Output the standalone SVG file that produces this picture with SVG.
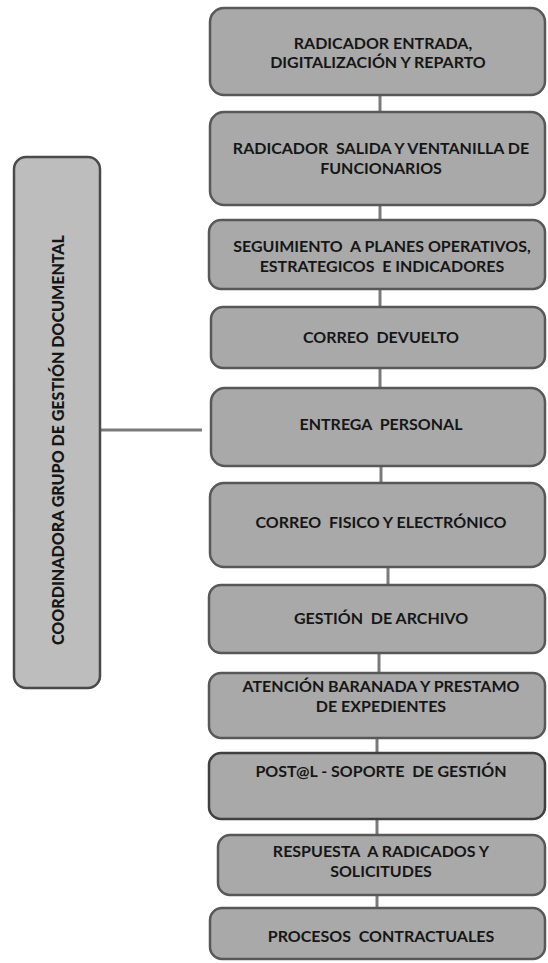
<svg xmlns="http://www.w3.org/2000/svg" width="548" height="963" viewBox="0 0 548 963">
<style>
.b{fill:#a9a9a9;stroke:#585858;stroke-width:2.5}
.l{fill:#bdbdbd;stroke:#4a4a4a;stroke-width:2.5}
.t{font-family:Lato,"Liberation Sans",sans-serif;font-weight:bold;font-size:16px;fill:#161616;text-anchor:middle;white-space:pre}
.c{stroke:#7a7a7a;stroke-width:3;fill:none}
</style>
<rect width="548" height="963" fill="#ffffff"/>
<g id="connectors">
<line class="c" x1="380" y1="95" x2="380" y2="112"/>
<line class="c" x1="380" y1="205" x2="380" y2="220"/>
<line class="c" x1="380" y1="289" x2="380" y2="307"/>
<line class="c" x1="380" y1="368" x2="380" y2="388"/>
<line class="c" x1="381" y1="466" x2="381" y2="483"/>
<line class="c" x1="388" y1="567" x2="388" y2="585"/>
<line class="c" x1="379" y1="653" x2="379" y2="673"/>
<line class="c" x1="377" y1="738" x2="377" y2="753"/>
<line class="c" x1="377" y1="819" x2="377" y2="835"/>
<line class="c" x1="377" y1="895" x2="377" y2="908"/>
<line class="c" x1="100" y1="430" x2="202" y2="430"/>
</g>
<g id="coordinadora">
<rect class="l" x="14" y="157" width="86" height="531" rx="12"/>
<text class="t" transform="translate(64,440) rotate(-90)" style="font-size:17px;font-weight:900" textLength="410" lengthAdjust="spacingAndGlyphs">COORDINADORA GRUPO DE GESTIÓN DOCUMENTAL</text>
</g>
<g id="n1">
<rect class="b" x="210" y="8" width="335" height="87" rx="14"/>
<text class="t" x="383" y="49">RADICADOR ENTRADA,</text>
<text class="t" x="378" y="68">DIGITALIZACIÓN Y REPARTO</text>
</g>
<g id="n2">
<rect class="b" x="210" y="112" width="335" height="93" rx="14"/>
<text class="t" x="381" y="154">RADICADOR  SALIDA Y VENTANILLA DE</text>
<text class="t" x="381" y="174">FUNCIONARIOS</text>
</g>
<g id="n3">
<rect class="b" x="209" y="220" width="336" height="69" rx="12"/>
<text class="t" x="382" y="252">SEGUIMIENTO  A PLANES OPERATIVOS,</text>
<text class="t" x="382" y="272">ESTRATEGICOS  E INDICADORES</text>
</g>
<g id="n4">
<rect class="b" x="211" y="307" width="334" height="61" rx="12"/>
<text class="t" x="381" y="343">CORREO  DEVUELTO</text>
</g>
<g id="n5">
<rect class="b" x="211" y="388" width="334" height="78" rx="14"/>
<text class="t" x="381" y="430">ENTREGA  PERSONAL</text>
</g>
<g id="n6">
<rect class="b" x="210" y="483" width="335" height="84" rx="14"/>
<text class="t" x="381" y="528">CORREO  FISICO Y ELECTRÓNICO</text>
</g>
<g id="n7">
<rect class="b" x="209" y="585" width="336" height="68" rx="12"/>
<text class="t" x="381" y="624">GESTIÓN  DE ARCHIVO</text>
</g>
<g id="n8">
<rect class="b" x="209" y="673" width="336" height="65" rx="12"/>
<text class="t" x="381" y="692">ATENCIÓN BARANADA Y PRESTAMO</text>
<text class="t" x="381" y="712">DE EXPEDIENTES</text>
</g>
<g id="n9">
<rect class="b" x="209" y="753" width="336" height="66" rx="12" style="stroke:#404040"/>
<text class="t" x="381" y="777">POST@L - SOPORTE  DE GESTIÓN</text>
</g>
<g id="n10">
<rect class="b" x="218" y="835" width="327" height="60" rx="12"/>
<text class="t" x="381" y="857">RESPUESTA  A RADICADOS Y</text>
<text class="t" x="381" y="877">SOLICITUDES</text>
</g>
<g id="n11">
<rect class="b" x="210" y="908" width="335" height="51" rx="12"/>
<text class="t" x="381" y="942">PROCESOS  CONTRACTUALES</text>
</g>
</svg>
